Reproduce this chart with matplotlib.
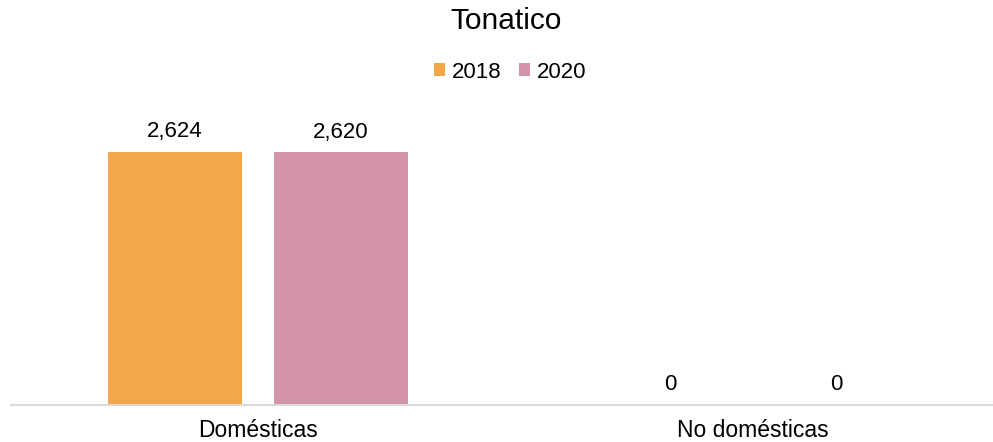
import numpy as np
import matplotlib
matplotlib.use("Agg")
import matplotlib.pyplot as plt

# ---- data ----
categories = ["Domésticas", "No domésticas"]
years = ["2018", "2020"]
values_2018 = [2624, 0]
values_2020 = [2620, 0]
colors = ["#F4A64A", "#D393A8"]

plt.rcParams['font.family'] = ['Liberation Sans', 'DejaVu Sans']

fig = plt.figure(figsize=(9.93, 4.42), dpi=100)
ax = fig.add_axes([10.5/993, 37/442, 990/993, 305/442])

x = np.arange(len(categories))
w = 0.271
off = 0.168
series = [values_2018, values_2020]
for i, (yr, vals) in enumerate(zip(years, series)):
    pos = x + (i * 2 - 1) * off
    bars = ax.bar(pos, vals, width=w, color=colors[i], label=yr)
    for b, v in zip(bars, vals):
        ax.annotate(f"{v:,}", (b.get_x() + b.get_width() / 2, v),
                    xytext=(0, 7), textcoords="offset points",
                    ha="center", va="bottom", fontsize=16, color="#000000")

ax.set_xlim(-0.5, 1.5)
ax.set_ylim(0, 3163)
ax.set_yticks([])
ax.set_xticks(x)
ax.set_xticklabels(categories, fontsize=16.5)
ax.tick_params(axis="x", length=0, pad=10)
for s in ["top", "right", "left"]:
    ax.spines[s].set_visible(False)
ax.spines["bottom"].set_color("#D9D9D9")
ax.spines["bottom"].set_linewidth(1.5)

fig.text(506/993, 1 - 21/442, "Tonatico", ha="center", va="center", fontsize=21.5)
fig.legend(loc="center", bbox_to_anchor=(510/993, 1 - 72/442), ncol=2, frameon=False,
           fontsize=16, handlelength=0.5, handleheight=0.5, handletextpad=0.3,
           columnspacing=0.8)

fig.savefig("out.png", dpi=100)
